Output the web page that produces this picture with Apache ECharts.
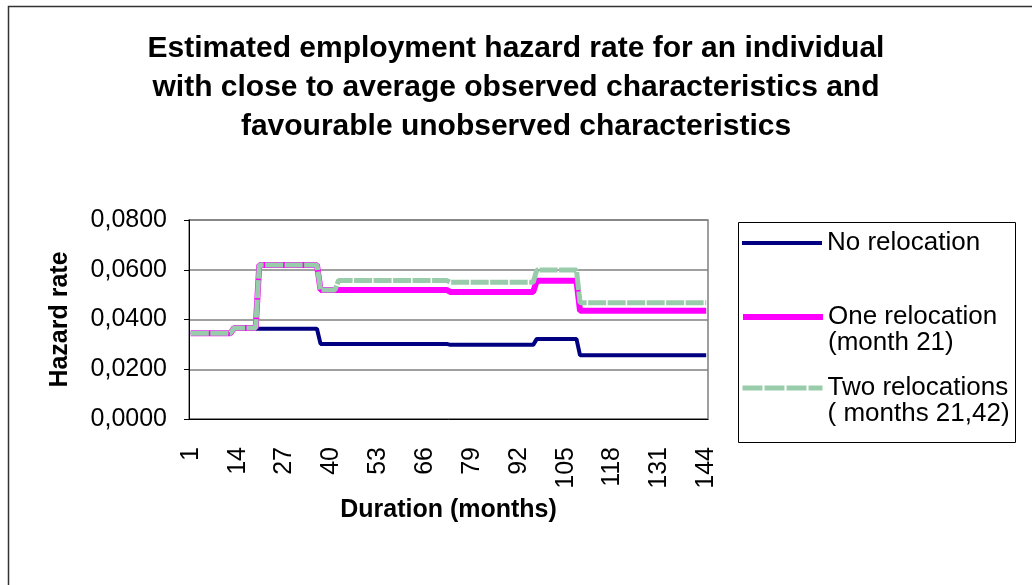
<!DOCTYPE html>
<html>
<head>
<meta charset="utf-8">
<script src="https://cdn.jsdelivr.net/npm/echarts@6/dist/echarts.min.js"></script>
<style>
  html, body { margin: 0; padding: 0; background: #fff; }
  #main { width: 1032px; height: 585px; }
</style>
</head>
<body>
<div id="main"></div>
<script>
const myChart = echarts.init(document.getElementById('main'))

// months 1..144
const months = []
for (let m = 1; m <= 144; m++) months.push(String(m))

// first month of each flat stretch, and the level in that stretch
const stepStart = [1, 13, 20, 37, 42, 73, 97, 109]
const noReloc =   [0.0345, 0.0363, 0.0363, 0.0302, 0.0302, 0.0298, 0.0322, 0.0256]
const oneReloc =  [0.0345, 0.0366, 0.0619, 0.0519, 0.0519, 0.0511, 0.0556, 0.0435]
const twoReloc =  [0.0345, 0.0366, 0.0619, 0.0519, 0.0557, 0.0550, 0.0599, 0.0467]

// spread the flat stretches over the months
function expand(levels) {
  const out = []
  let k = 0
  for (let m = 1; m <= 144; m++) {
    while (k + 1 < stepStart.length && m >= stepStart[k + 1]) k++
    out.push(levels[k])
  }
  return out
}

const font = 'Arial, "Liberation Sans", sans-serif'
const legendText = { fontFamily: font, fontSize: 26, color: '#000', lineHeight: 26 }
const noDot = { color: 'transparent', borderColor: 'transparent', borderWidth: 0 }

var option = {
  animation: false,
  title: {
    text: 'Estimated employment hazard rate for an individual\nwith close to average observed characteristics and\nfavourable unobserved characteristics',
    left: 'center',
    top: 24,
    textStyle: { fontFamily: font, fontSize: 30, fontWeight: 'bold', color: '#000', lineHeight: 39 },
  },
  graphic: [
    { type: 'rect', left: 6, top: 4, shape: { width: 1100, height: 700 }, style: { fill: null, stroke: '#333', lineWidth: 1.5 } },
    { type: 'rect', left: 736, top: 220, shape: { width: 277, height: 220 }, style: { fill: null, stroke: '#000', lineWidth: 1 } },
  ],
  legend: [
    {
      data: ['No relocation'], left: 735, top: 225, itemWidth: 80, itemHeight: 5, itemGap: 0,
      itemStyle: noDot, textStyle: legendText,
      lineStyle: { color: '#000080', width: 4 },
    },
    {
      data: ['One relocation (month 21)'], left: 735, top: 273, itemWidth: 80, itemHeight: 5,
      itemStyle: noDot, textStyle: legendText,
      lineStyle: { color: '#FF00FF', width: 6 },
      formatter: () => ' \nOne relocation\n(month 21)',
    },
    {
      data: ['Two relocations ( months 21,42)'], left: 735, top: 344, itemWidth: 80, itemHeight: 5,
      itemStyle: noDot, textStyle: legendText,
      lineStyle: { color: '#99CCAA', width: 5, type: [20, 2] },
      formatter: () => ' \nTwo relocations\n( months 21,42)',
    },
  ],
  grid: {
    left: 189, right: 324, top: 220, bottom: 166,
    show: true, borderColor: '#808080', borderWidth: 1.5,
  },
  xAxis: {
    type: 'category',
    data: months,
    boundaryGap: true,
    name: 'Duration (months)',
    nameLocation: 'middle',
    nameGap: 79,
    nameTextStyle: { fontFamily: font, fontSize: 25, fontWeight: 'bold', color: '#000' },
    axisLine: { lineStyle: { color: '#000', width: 1 } },
    axisTick: { interval: 0, length: 6, lineStyle: { color: '#000' } },
    axisLabel: { interval: 12, rotate: 90, margin: 28, fontFamily: font, fontSize: 25, color: '#000' },
    splitLine: { show: false },
  },
  yAxis: {
    type: 'value',
    min: 0, max: 0.08, interval: 0.02,
    name: 'Hazard rate',
    nameLocation: 'middle',
    nameGap: 116,
    nameRotate: 90,
    nameTextStyle: { fontFamily: font, fontSize: 25, fontWeight: 'bold', color: '#000' },
    axisLine: { show: true, lineStyle: { color: '#000', width: 1 } },
    axisTick: { show: true, length: 5, lineStyle: { color: '#000' } },
    axisLabel: {
      margin: 22, fontFamily: font, fontSize: 25, color: '#000',
      formatter: v => v.toFixed(4).replace('.', ','),
    },
    splitLine: { lineStyle: { color: '#808080', width: 1.5 } },
  },
  series: [
    {
      name: 'No relocation', type: 'line', data: expand(noReloc), showSymbol: false, symbol: 'none',
      itemStyle: { color: '#000080' }, lineStyle: { color: '#000080', width: 4 },
    },
    {
      name: 'One relocation (month 21)', type: 'line', data: expand(oneReloc), showSymbol: false, symbol: 'none',
      itemStyle: { color: '#FF00FF' }, lineStyle: { color: '#FF00FF', width: 6 },
    },
    {
      name: 'Two relocations ( months 21,42)', type: 'line', data: expand(twoReloc), showSymbol: false, symbol: 'none',
      itemStyle: { color: '#99CCAA' }, lineStyle: { color: '#99CCAA', width: 5, type: [18, 1.5] },
    },
  ],
}

myChart.setOption(option)
</script>
</body>
</html>
